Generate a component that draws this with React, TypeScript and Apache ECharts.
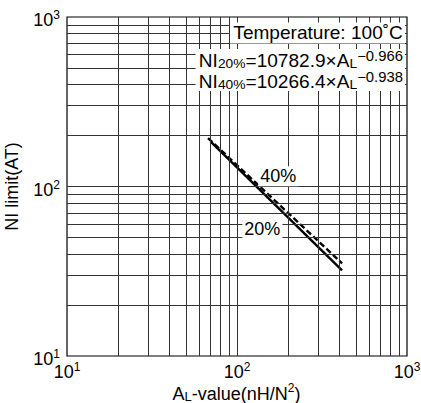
import React, { useEffect, useRef } from "react";
import * as echarts from "echarts";

// Data (log-log)
const al20 = [70, 415];
const ni20 = [184, 32];
const al40 = [67.5, 415];
const ni40 = [193, 35.2];
const gridValuesX = [20, 30, 40, 50, 60, 70, 80, 90, 100, 200, 300, 400, 500, 600, 700, 800, 900];
const gridValuesY = [20, 30, 40, 50, 60, 70, 80, 90, 100, 200, 300, 400, 500, 600, 700, 800, 900];
const label40 = { text: "40%", al: 175, ni: 115 };
const label20 = { text: "20%", al: 141, ni: 56 };

const FONT = "'Liberation Sans', Arial, Helvetica, sans-serif";

const powLabel = (v: number) => `{b|10}{s|${Math.round(Math.log10(v))}}`;
const powRich = {
  b: { fontSize: 18, fontFamily: FONT, color: "#000", lineHeight: 20, verticalAlign: "bottom" },
  s: { fontSize: 12, fontFamily: FONT, color: "#000", lineHeight: 10, verticalAlign: "top" },
};

export default function App() {
  const ref = useRef<HTMLDivElement>(null);
  useEffect(() => {
    document.body.style.margin = "0";
    const chart = echarts.init(ref.current!, undefined, { renderer: "svg" });
    const gridLine = { color: "#333", width: 1, type: "solid" as const };
    const option: any = {
      animation: false,
      backgroundColor: "#fff",
      grid: {
        left: 67,
        right: 14,
        top: 17,
        bottom: 47,
        containLabel: false,
        outerBoundsMode: "none",
        show: true,
        borderColor: "#000",
        borderWidth: 1.2,
        backgroundColor: "#fff",
      },
      xAxis: {
        type: "log",
        logBase: 10,
        min: 10,
        max: 1000,
        splitNumber: 2,
        axisLine: { show: false },
        axisTick: { show: false },
        splitLine: { show: false },
        axisLabel: { formatter: powLabel, rich: powRich, margin: 5 },
      },
      yAxis: {
        type: "log",
        logBase: 10,
        min: 10,
        max: 1000,
        splitNumber: 2,
        axisLine: { show: false },
        axisTick: { show: false },
        splitLine: { show: false },
        axisLabel: { formatter: powLabel, rich: powRich, margin: 7, padding: [4, 0, 0, 0] },
        name: "NI limit(AT)",
        nameLocation: "middle",
        nameGap: 46,
        nameRotate: 90,
        nameTextStyle: { fontSize: 18, fontFamily: FONT, color: "#000" },
      },
      series: [
        {
          type: "line",
          data: [[10, 10]],
          showSymbol: false,
          symbol: "none",
          lineStyle: { opacity: 0 },
          silent: true,
          z: 1,
          markLine: {
            silent: true,
            symbol: ["none", "none"],
            label: { show: false },
            lineStyle: gridLine,
            data: [
              ...gridValuesX.map((v) => ({ xAxis: v })),
              ...gridValuesY.map((v) => ({ yAxis: v })),
            ],
          },
        },
        {
          type: "line",
          name: "20%",
          data: al20.map((x, i) => [x, ni20[i]]),
          showSymbol: false,
          symbol: "none",
          lineStyle: { color: "#000", width: 2.4, type: "solid" },
          z: 4,
        },
        {
          type: "line",
          name: "40%",
          data: al40.map((x, i) => [x, ni40[i]]),
          showSymbol: false,
          symbol: "none",
          lineStyle: { color: "#000", width: 2.4, type: [6, 3] },
          z: 4,
        },
      ],
    };
    chart.setOption(option);

    const p40 = chart.convertToPixel({ gridIndex: 0 }, [label40.al, label40.ni]) as number[];
    const p20 = chart.convertToPixel({ gridIndex: 0 }, [label20.al, label20.ni]) as number[];
    const big = { fontSize: 18, fontFamily: FONT, fill: "#000", lineHeight: 21, verticalAlign: "bottom" };
    const small = { fontSize: 13, fontFamily: FONT, fill: "#000", lineHeight: 20.5, verticalAlign: "bottom" };
    const sup = { fontSize: 14, fontFamily: FONT, fill: "#000", lineHeight: 13, verticalAlign: "top" };
    const supAxis = { fontSize: 12, fontFamily: FONT, fill: "#000", lineHeight: 12, verticalAlign: "top" };
    chart.setOption({
      graphic: [
        {
          type: "text",
          z: 10,
          x: 236.5,
          y: 392,
          style: {
            text: "{b|A}{s|L}{b|-value(nH/N}{p|2}{b|)}",
            align: "center",
            verticalAlign: "middle",
            rich: { b: big, s: small, p: supAxis },
          },
        },
        {
          type: "text",
          z: 10,
          x: p40[0],
          y: p40[1],
          style: { text: label40.text, font: `18px ${FONT}`, fill: "#000", align: "center", verticalAlign: "middle", backgroundColor: "#fff", padding: [1, 2] },
        },
        {
          type: "text",
          z: 10,
          x: p20[0],
          y: p20[1],
          style: { text: label20.text, font: `18px ${FONT}`, fill: "#000", align: "center", verticalAlign: "middle", backgroundColor: "#fff", padding: [1, 2] },
        },
        {
          type: "text",
          z: 10,
          x: 405,
          y: 33,
          scaleX: 1.06,
          style: { text: "Temperature: 100˚C", font: `18px ${FONT}`, fill: "#000", align: "right", verticalAlign: "middle", backgroundColor: "#fff", padding: [2, 2, 1, 3] },
        },
        {
          type: "text",
          z: 10,
          x: 405,
          y: 70,
          scaleX: 1.06,
          style: {
            text: "{b|NI}{s|20%}{b|=10782.9×A}{s|L}{p|−0.966}\n{b|NI}{s|40%}{b|=10266.4×A}{s|L}{p|−0.938}",
            align: "right",
            verticalAlign: "middle",
            backgroundColor: "#fff",
            padding: [0, 2, 0, 3],
            rich: { b: big, s: small, p: sup },
          },
        },
      ],
    });
    return () => chart.dispose();
  }, []);
  return <div ref={ref} style={{ width: 421, height: 403 }} />;
}
